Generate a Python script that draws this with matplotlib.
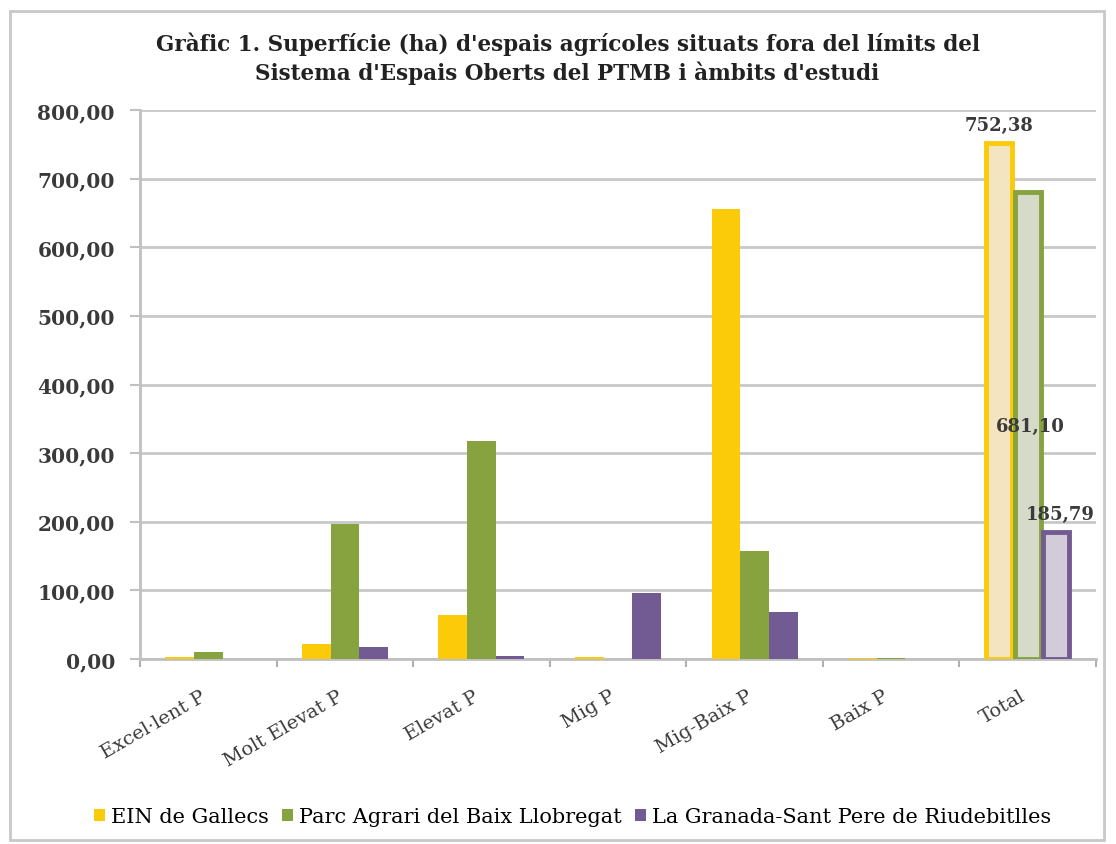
import matplotlib
matplotlib.use("Agg")
import matplotlib.pyplot as plt
import numpy as np
from matplotlib.patches import Rectangle
from matplotlib.transforms import ScaledTranslation

categories = ["Excel·lent P", "Molt Elevat P", "Elevat P", "Mig P", "Mig-Baix P", "Baix P", "Total"]
series_names = ["EIN de Gallecs", "Parc Agrari del Baix Llobregat", "La Granada-Sant Pere de Riudebitlles"]
ein = [2.5, 21.5, 64.0, 3.5, 656.0, 1.0, 752.38]
parc = [10.0, 196.0, 317.0, 0.0, 157.0, 1.0, 681.10]
granada = [0.0, 17.0, 4.0, 96.0, 68.0, 0.0, 185.79]
total_labels = ["752,38", "681,10", "185,79"]
yticks = [0, 100, 200, 300, 400, 500, 600, 700, 800]

colors = ["#FBCB0A", "#86A340", "#725B92"]
light = ["#F2E5C0", "#D6DAC8", "#D2CCD9"]

W, H = 1116, 845
fig = plt.figure(figsize=(W / 100, H / 100), dpi=100)
L, R, T, B = 140, 1096, 111, 660
ax = fig.add_axes([L / W, 1 - B / H, (R - L) / W, (B - T) / H])

x = np.arange(len(categories))
w = 0.21
data = [ein, parc, granada]
n = len(categories)
for i, (vals, c, lc) in enumerate(zip(data, colors, light)):
    xs = x + (i - 1) * w
    ax.bar(xs[:n-1], vals[:n-1], width=w, color=c, zorder=3, label=series_names[i])
    ax.bar(xs[n-1], vals[n-1], width=w*0.9, facecolor=lc, edgecolor=c, linewidth=3.5, zorder=3)

serif = ["DejaVu Serif"]
lab_col = "#3a3a3a"
ax.text(x[-1] - w, ein[-1] + 12, total_labels[0], ha="center", va="bottom",
        fontsize=13, fontweight="bold", family=serif, color=lab_col)
ax.text(x[-1] + 0.02, 340, total_labels[1], ha="center", va="center",
        fontsize=13, fontweight="bold", family=serif, color=lab_col, zorder=5)
ax.text(x[-1] + w + 0.03, granada[-1] + 12, total_labels[2], ha="center", va="bottom",
        fontsize=13, fontweight="bold", family=serif, color=lab_col, zorder=5)

ax.set_xlim(-0.5, n - 0.5)
ax.set_ylim(0, 800)
ax.set_yticks(yticks)
ax.set_yticklabels([f"{v:.2f}".replace(".", ",") for v in yticks],
                   fontsize=14.5, fontweight="bold", family=serif, color=lab_col)
ax.yaxis.grid(True, color="#C8C8C8", linewidth=2, zorder=0)
ax.set_axisbelow(True)
ax.tick_params(axis="y", length=7, color="#C0C0C0", width=1.5, pad=11)

ax.set_xticks(x)
ax.set_xticklabels(categories, rotation=30, ha="right", rotation_mode="anchor",
                   fontsize=14, family=serif, color=lab_col)
ax.tick_params(axis="x", length=0, pad=20)
off = ScaledTranslation(-6 / 72, 0, fig.dpi_scale_trans)
for lbl in ax.get_xticklabels():
    lbl.set_transform(lbl.get_transform() + off)
ax.set_xticks(np.arange(-0.5, n, 1.0), minor=True)
ax.tick_params(axis="x", which="minor", length=6, color="#B0B0B0", width=1.5)

for s in ["top", "right"]:
    ax.spines[s].set_visible(False)
for s in ["left", "bottom"]:
    ax.spines[s].set_color("#C0C0C0")
    ax.spines[s].set_linewidth(2)

fig.text(0.5 * (160 + 975) / W, 1 - 33 / H,
         "Gràfic 1. Superfície (ha) d'espais agrícoles situats fora del límits del\n"
         "Sistema d'Espais Oberts del PTMB i àmbits d'estudi",
         ha="center", va="top", fontsize=15.5, fontweight="bold",
         family=serif, color="#222222", linespacing=1.25)

fig.legend(loc="center", bbox_to_anchor=(0.513, 1 - 818 / H), ncol=3, frameon=False,
           handlelength=0.55, handleheight=0.55, handletextpad=0.3,
           columnspacing=0.6, prop={"family": serif, "size": 15})

fig.patches.append(Rectangle((10 / W, 4 / H), (1104 - 10) / W, (837 - 8) / H,
                             transform=fig.transFigure, fill=False,
                             edgecolor="#C8C8C8", linewidth=2))

fig.savefig("out.png", dpi=100, facecolor="white")
